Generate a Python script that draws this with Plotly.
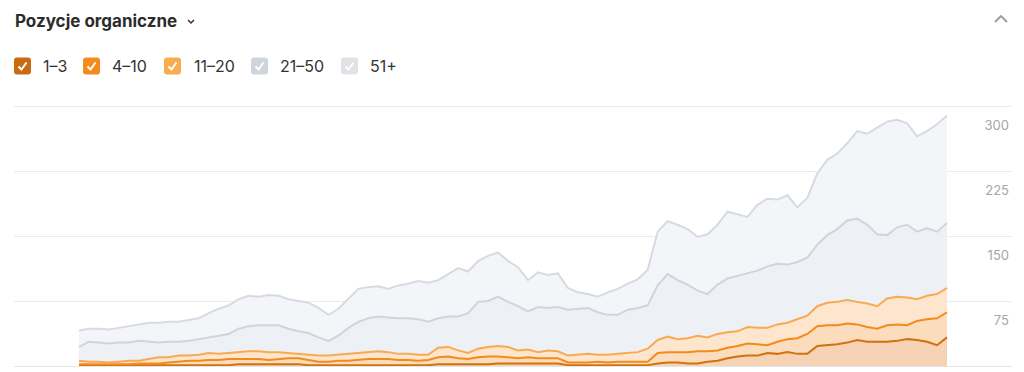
import plotly.graph_objects as go

# ---------------- data ----------------
day_index = list(range(88))

pos_1_3 = [1,1,1,1,1,1,1,1,1,1, 1,1,1,1,1,1,2,2,2,2,
           2,2,2,1,1,1,1,1,1,1, 1,1,1,1,1,1,2,2,2,2,
           2,2,3,3,3,3,3,3,3,1, 1,1,1,1,1,1,1,1,3,4,
           4,3,3,5,6,9,11,12,12,15, 14,16,14,14,23,24,25,27,30,28,
           28,28,29,31,30,28,24,33]
pos_4_10 = [1,1,1,1,1,1,2,2,2,3, 4,5,5,6,6,7,6,6,6,5,
            6,7,7,6,4,4,5,5,6,7, 7,7,6,6,5,6,8,9,7,6,
            8,9,8,7,6,7,6,6,6,3, 3,3,4,3,4,4,4,4,12,12,
            12,13,14,12,12,12,12,14,13,9, 14,15,18,23,23,23,22,22,18,17,
            15,19,19,16,22,26,31,29]
pos_11_20 = [4,3,3,2,3,4,3,5,7,6, 7,6,7,8,7,7,8,9,9,9,
             8,6,5,6,7,7,7,8,8,8, 9,8,7,7,7,6,11,11,9,7,
             10,11,12,12,9,9,7,9,8,8, 9,10,8,9,9,10,11,15,15,18,
             15,16,18,16,19,18,17,19,19,20, 20,19,22,21,23,26,27,27,26,27,
             26,31,32,32,25,27,28,28]
pos_21_50 = [16,23,22,22,22,21,23,20,17,18, 16,17,18,18,21,22,27,29,30,31,
             31,28,26,25,21,17,22,30,36,39, 40,40,41,41,41,38,34,35,39,46,
             54,53,57,52,51,44,52,49,51,53, 53,53,49,46,45,50,51,50,63,72,
             68,62,52,50,57,62,64,62,66,71, 70,67,66,67,71,78,84,92,96,91,
             83,73,80,84,78,78,72,75]
pos_51_plus = [19,15,16,16,17,19,19,22,23,23, 23,24,24,28,31,33,34,35,33,35,
               34,34,35,35,34,30,31,33,38,36, 35,33,38,40,44,45,44,49,56,48,
               47,52,51,47,45,36,40,38,39,25, 19,16,18,26,30,30,33,41,62,61,
               64,64,62,69,69,77,71,65,76,78, 74,80,63,69,82,87,87,89,101,105,
               123,131,124,117,110,112,124,124]

series_names = ["1–3", "4–10", "11–20", "21–50", "51+"]
y_tick_values = [75, 150, 225, 300]
title_text = "Pozycje organiczne"

# ---------------- styles ----------------
series_values = [pos_1_3, pos_4_10, pos_11_20, pos_21_50, pos_51_plus]
line_colors = ["#d0720e", "#f48a1a", "#f8aa52", "#cfd5dd", "#d6dbe2"]
fill_colors = ["#f5d3b4", "#fbdcbd", "#fde6cd", "#edf0f4", "#f4f5f8"]
box_colors = ["#c96b12", "#f38b1e", "#f8ab4f", "#cfd5de", "#dfe3e8"]

W, H = 1024, 372
ML, MR, MT, MB = 14, 12, 104, 6
PW, PH = W - ML - MR, H - MT - MB
Y_TOP = 300 + (106 - MT) * 75 / 65


def px(x):
    return (x - ML) / PW


def py(y):
    return (H - MB - y) / PH


fig = go.Figure()
for name, vals, lc, fc in zip(series_names, series_values, line_colors, fill_colors):
    fig.add_trace(go.Scatter(
        x=day_index, y=vals, name=name, mode="lines",
        stackgroup="one", line=dict(color=lc, width=2),
        fillcolor=fc, hoverinfo="skip", showlegend=False,
    ))

shapes = []
annotations = []

# title + chevron
annotations.append(dict(
    xref="paper", yref="paper", x=px(13), y=py(21), xanchor="left", yanchor="middle",
    text="<b>" + title_text + "</b>", showarrow=False,
    font=dict(family="Inter, Noto Sans, sans-serif", size=17, color="#2c2c2c"),
))
shapes.append(dict(
    type="path", xref="paper", yref="paper",
    path=f"M {px(188)} {py(20)} L {px(191)} {py(23)} L {px(194)} {py(20)}",
    line=dict(color="#333333", width=1.5),
))
# top-right collapse chevron
shapes.append(dict(
    type="path", xref="paper", yref="paper",
    path=f"M {px(995)} {py(22)} L {px(1001)} {py(16)} L {px(1007)} {py(22)}",
    line=dict(color="#9a9a9a", width=1.8),
))

# custom legend with checkboxes
box_lefts = [14, 83, 164, 251, 341]
label_lefts = [41, 110, 192, 278, 368]
for name, bx, lx, bc in zip(series_names, box_lefts, label_lefts, box_colors):
    x0, x1, y0, y1, r = bx, bx + 17, 57.5, 74.5, 3
    path = (f"M {px(x0 + r)} {py(y0)} L {px(x1 - r)} {py(y0)} "
            f"Q {px(x1)} {py(y0)} {px(x1)} {py(y0 + r)} L {px(x1)} {py(y1 - r)} "
            f"Q {px(x1)} {py(y1)} {px(x1 - r)} {py(y1)} L {px(x0 + r)} {py(y1)} "
            f"Q {px(x0)} {py(y1)} {px(x0)} {py(y1 - r)} L {px(x0)} {py(y0 + r)} "
            f"Q {px(x0)} {py(y0)} {px(x0 + r)} {py(y0)} Z")
    shapes.append(dict(type="path", xref="paper", yref="paper", path=path,
                       fillcolor=bc, line=dict(width=0)))
    shapes.append(dict(
        type="path", xref="paper", yref="paper",
        path=f"M {px(bx + 4.5)} {py(66.5)} L {px(bx + 7.5)} {py(69.5)} L {px(bx + 12.5)} {py(62.5)}",
        line=dict(color="white", width=2),
    ))
    annotations.append(dict(
        xref="paper", yref="paper", x=px(lx), y=py(66), xanchor="left", yanchor="middle",
        text=name, showarrow=False,
        font=dict(family="Inter, Noto Sans, sans-serif", size=16, color="#333333"),
    ))

n = len(day_index)
step_px = (947 - 79) / (n - 1)
x_lo = 0 - (79 - ML) / step_px
x_hi = (n - 1) + (ML + PW - 947) / step_px

fig.update_layout(
    width=W, height=H,
    margin=dict(l=ML, r=MR, t=MT, b=MB),
    paper_bgcolor="white", plot_bgcolor="white",
    showlegend=False, hovermode=False,
    shapes=shapes, annotations=annotations,
    xaxis=dict(range=[x_lo, x_hi], showgrid=False, zeroline=False,
               showticklabels=False, showline=False, fixedrange=True),
    yaxis=dict(range=[0, Y_TOP], side="right", tickvals=y_tick_values,
               ticklabelposition="inside", ticklabelshift=19, ticklabelstandoff=0,
               showgrid=True, gridcolor="#e9ebee", gridwidth=1,
               zeroline=True, zerolinecolor="#e3e5e8", zerolinewidth=1,
               showline=False, ticks="",
               tickfont=dict(family="Inter, Noto Sans, sans-serif", size=13, color="#a3a7ab"),
               fixedrange=True),
)

fig.write_html("out.html")
